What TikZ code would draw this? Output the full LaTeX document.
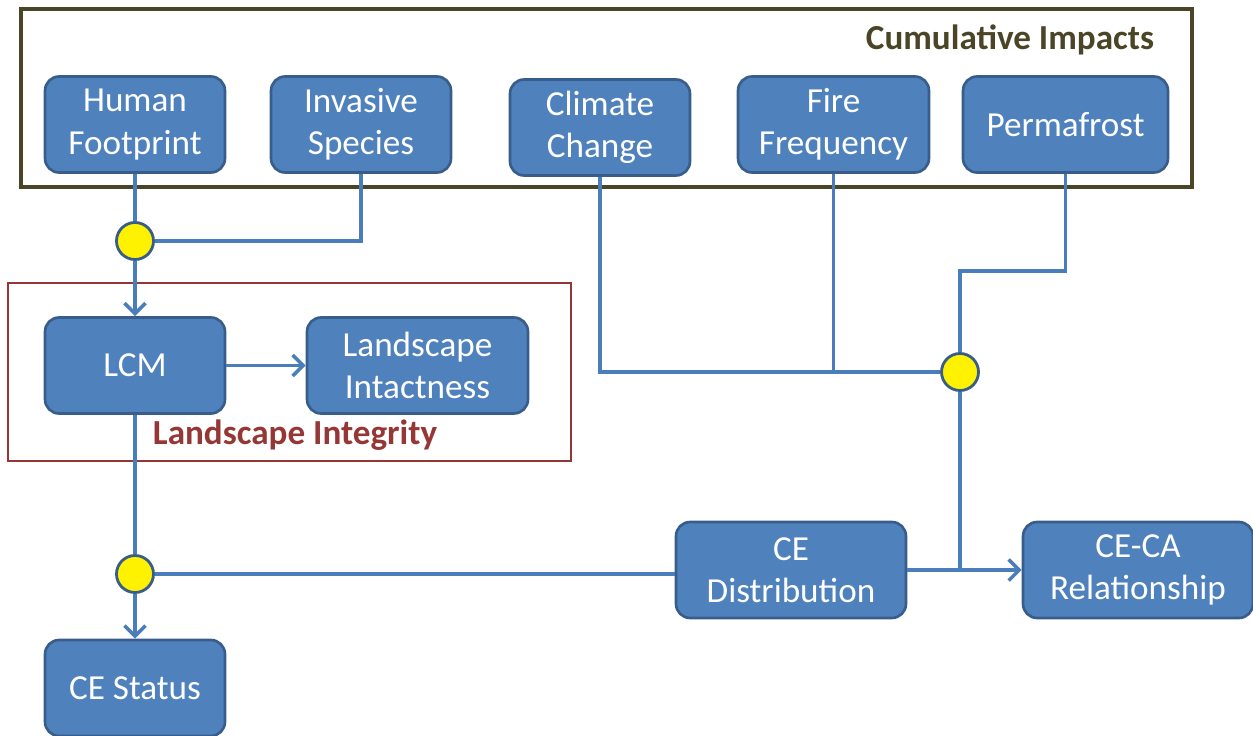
\documentclass[tikz,border=0pt]{standalone}
\usepackage{fontspec}
\setmainfont{Carlito}
\usetikzlibrary{arrows.meta}
\definecolor{boxblue}{HTML}{4F81BD}
\definecolor{boxedge}{HTML}{385D8A}
\definecolor{lineblue}{HTML}{4A7EBB}
\definecolor{frameolive}{HTML}{4A4526}
\definecolor{framered}{HTML}{953735}

\begin{document}
\begin{tikzpicture}[x=0.02cm, y=-0.02cm,
        blk/.style={draw=boxedge, line width=1.5pt, fill=boxblue, rounded corners=8pt, text=white, align=center,
            minimum height=1.92cm, minimum width=3.6cm, inner sep=2pt, font=\fontsize{20}{24}\selectfont},
        jnct/.style={circle, draw=boxedge, line width=1.6pt, fill=yellow, minimum size=0.74cm, inner sep=0pt},
        conn/.style={draw=lineblue, line width=2pt},
        ttl/.style={font=\fontsize{20}{24}\selectfont\bfseries},
        >={Straight Barb[length=6pt,width=12pt]}]
        \useasboundingbox (0,0) rectangle (1253,736);
        \draw[frameolive, line width=1.8pt] (21,9) rectangle (1192,187);
        \node[ttl, text=frameolive] (cititle) at (1010,40) {Cumulative Impacts};
        \draw[framered, line width=1.5pt] (8,283) rectangle (571,461);
        \node[ttl, text=framered] (lititle) at (295,435) {Landscape Integrity};

        \node[blk] (hf) at (135,124.5) {Human\\Footprint};
        \node[blk] (is) at (361,124.5) {Invasive\\Species};
        \node[blk] (cc) at (600,127.5) {Climate\\Change};
        \node[blk, minimum width=3.82cm] (ff) at (833.5,124.5) {Fire\\Frequency};
        \node[blk, minimum width=4.1cm] (pf) at (1065.5,124.5) {Permafrost};
        \node[blk] (lcm) at (135,365.5) {LCM};
        \node[blk, minimum width=4.42cm] (li) at (417.5,365.5) {Landscape\\Intactness};
        \node[blk] (ces) at (135,688) {CE Status};
        \node[blk, minimum width=4.6cm] (ced) at (791,570) {CE\\Distribution};
        \node[blk, minimum width=4.6cm] (ceca) at (1138,570) {CE-CA\\Relationship};

        \node[jnct] (j1) at (135,241) {};
        \node[jnct] (j2) at (135,574) {};
        \node[jnct] (j3) at (960,372) {};
        \coordinate (pfbend) at (960,271);
        \coordinate (j4) at (j3 |- ced.east);

        \draw[conn] (hf.south) -- (j1.north);
        \draw[conn] (is.south) |- (j1.east);
        \draw[conn, ->] (j1.south) -- (lcm.north);
        \draw[conn, ->] (lcm.east) -- (li.west);
        \draw[conn] (lcm.south) -- (j2.north);
        \draw[conn, ->] (j2.south) -- (ces.north);
        \draw[conn] (j2.east) -- (j2.east -| ced.west);
        \draw[conn, ->] (ced.east) -- (ceca.west);
        \draw[conn] (cc.south) |- (j3.west);
        \draw[conn] (ff.south) -- (ff.south |- j3);
        \draw[conn] (pf.south) |- (pfbend) -- (j3.north);
        \draw[conn] (j3.south) -- (j4);
    \end{tikzpicture}
\end{document}
